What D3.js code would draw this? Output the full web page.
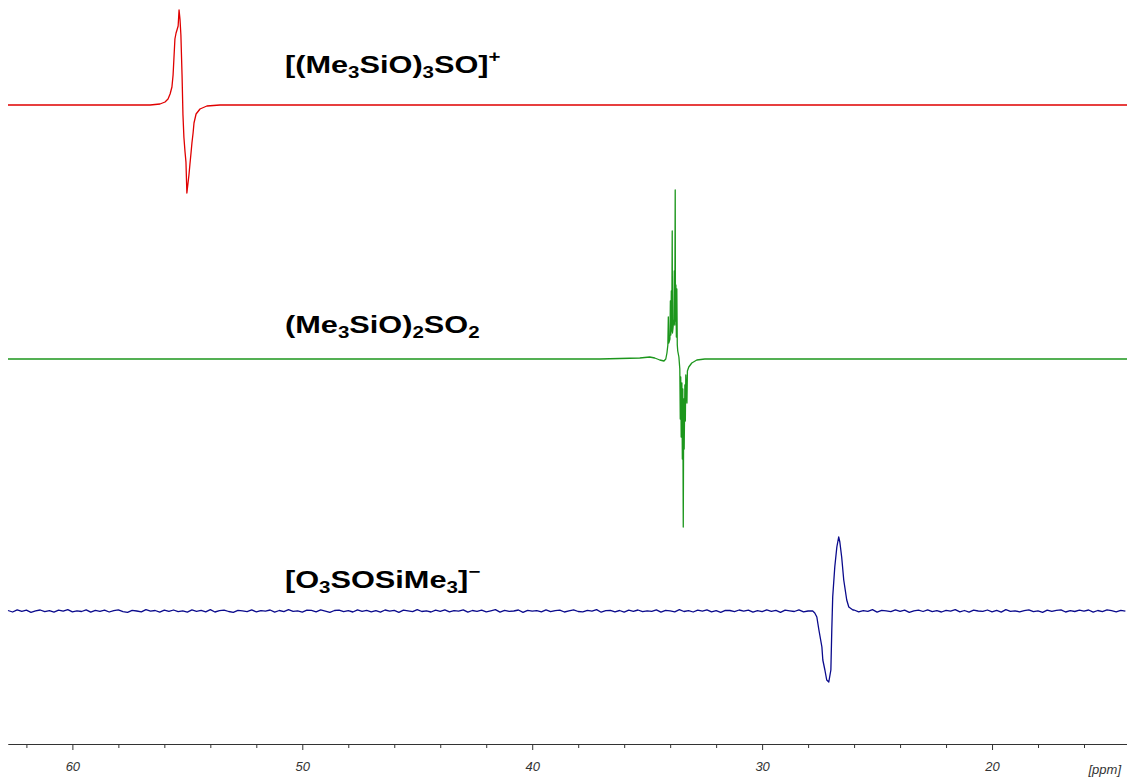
<!DOCTYPE html>
<html>
<head>
<meta charset="utf-8">
<script src="https://cdn.jsdelivr.net/npm/d3@7"></script>
<style>
  body { margin: 0; background: #fff; }
  svg { display: block; }
  .axis text { font-family: "Liberation Sans", Arial, sans-serif; font-style: italic; font-size: 13px; fill: #333; }
  .axis path, .axis line { stroke: #333; }
  .label { font-family: "Liberation Sans", Arial, sans-serif; font-weight: bold; font-size: 24px; fill: #000; }
</style>
</head>
<body>
<div id="chart"></div>
<script>
// ---- data (chemical shift in ppm, intensity in arbitrary units) ----
const redPpm = [62.8, 56.62, 56.19, 55.97, 55.84, 55.75, 55.67, 55.62, 55.58, 55.54, 55.49, 55.45, 55.40, 55.36, 55.32, 55.28,
  55.23, 55.19, 55.15, 55.10, 55.06, 55.02, 54.97, 54.93, 54.89, 54.84, 54.80, 54.75, 54.71, 54.62, 54.45, 54.15, 53.58, 14.13];
const redInt = [0, 0, 1, 3, 6, 11, 18, 30, 48, 66, 72, 75, 79, 95, 86, 70,
  30, -10, -32, -47, -57, -88, -78, -70, -60, -48, -38, -28, -18, -9, -4, -1, 0, 0];

const greenPpm = [62.8, 37.06, 35.32, 34.89, 34.67, 34.45, 34.27, 34.19, 34.14, 34.10, 34.08, 34.06, 34.01, 33.99, 33.97,
  33.95, 33.93, 33.91, 33.90, 33.88, 33.84, 33.82, 33.80, 33.78, 33.77, 33.75, 33.73, 33.71, 33.69, 33.67, 33.62,
  33.58, 33.56, 33.54, 33.52, 33.49, 33.47, 33.45, 33.43, 33.41, 33.39, 33.36, 33.34, 33.32, 33.27, 33.25, 33.19,
  33.06, 32.84, 32.49, 14.13];
const greenInt = [0, 0, 1, 2, 1, -1, -2, 0, 6, 14, 42, 16, 20, 58, 24,
  68, 28, 128, 26, 30, 40, 88, 34, 169, 38, 74, 22, 70, 14, 8, 2,
  -10, -60, -18, -78, -24, -100, -30, -168, -40, -90, -26, -62, -16, -44, -12, -8,
  -4, -1, 0, 0];

// blue baseline noise, sampled every 0.2 ppm starting at 62.8 ppm
const blueNoiseStart = 62.8;
const blueNoiseStep = 0.2;
const blueNoise = [
  0.5,-1.0,1.2,-0.4,0.8,-1.3,0.2,1.0,-0.7,0.3,-1.1,0.9,-0.2,1.4,-0.8,0.1,-0.5,1.1,-1.2,0.6,
  -0.3,0.9,-1.0,0.4,1.2,-0.6,-1.4,0.7,0.0,-0.9,1.3,-0.2,0.5,-1.1,0.8,-0.4,1.0,-0.7,0.2,-1.2,
  1.1,-0.3,0.6,-0.8,1.4,-1.0,0.3,0.9,-0.5,-1.3,0.7,0.1,-0.6,1.2,-0.9,0.4,-0.2,1.0,-1.1,0.5,
  -0.7,1.3,-0.4,0.2,-1.2,0.8,0.6,-0.9,1.1,-0.1,-1.4,0.5,0.9,-0.6,0.3,-1.0,1.2,-0.3,0.7,-0.8,
  0.4,-1.1,1.0,-0.2,0.6,-1.3,0.9,0.1,-0.7,1.4,-0.5,0.2,-1.0,0.8,-0.4,1.1,-0.9,0.3,-0.1,1.2,
  -1.2,0.5,-0.3,0.9,-0.8,0.2,1.3,-1.1,0.6,-0.4,0.0,1.0,-1.3,0.7,-0.2,0.4,-0.9,1.1,-0.6,0.3,
  0.8,-1.0,0.1,1.2,-0.5,-0.9,0.6,-0.2,1.4,-1.2,0.3,0.7,-0.8,0.5,-1.1,0.9,-0.3,1.0,-0.7,0.2,
  -0.4,1.1,-1.2,0.6,0.1,-0.8,1.3,-0.5,0.4,-1.0,0.8,-0.1,1.2,-0.9,0.3,-1.3,0.7,0.5,-0.6,1.0,
  -0.2,0.9,-1.1,0.4,-0.7,1.2,-0.3,0.6,-1.4,0.8,0.2,-0.5,1.1,-0.9,0.0,1.3,-0.6,0.3,-1.0,0.7,
  0.5,-1.2,0.9,-0.1,1.0,-0.8,0.4,-0.3,1.3,-1.1,0.6,0.2,-0.7,1.1,-0.4,0.8,-1.3,0.1,0.9,-0.5,
  1.2,-0.6,0.3,-1.0,0.7,-0.2,1.4,-0.9,0.5,-1.2,0.8,0.0,-0.4,1.0,-0.8,0.6,-1.1,1.3,-0.3,0.2,
  -0.9,0.4,1.1,-0.7,0.2,-1.3,0.9,-0.4,0.6,1.2,-1.0,0.3,-0.5,0.8,-0.2,1.0,-1.2,0.5,-0.6,1.1,
  0.3,-0.8,0.6,-0.2
];
const bluePeakPpm = [27.80, 27.71, 27.62, 27.53, 27.40, 27.36, 27.27, 27.19, 27.10, 27.01, 26.97, 26.93, 26.84, 26.75, 26.67,
  26.62, 26.54, 26.45, 26.32, 26.23, 26.05];
const bluePeakInt = [0, -2, -6, -19, -36, -49, -59, -69, -71, -59, -19, 14, 44, 64, 74,
  69, 54, 31, 11, 4, 1];

const majorTicks = [60, 50, 40, 30, 20];
const minorTicks = [62, 58, 56, 54, 52, 48, 46, 44, 42, 38, 36, 34, 32, 28, 26, 24, 22, 18, 16];
const unitLabel = "[ppm]";

const labels = [
  [["[(Me", ""], ["3", "sub"], ["SiO)", ""], ["3", "sub"], ["SO]", ""], ["+", "sup"]],
  [["(Me", ""], ["3", "sub"], ["SiO)", ""], ["2", "sub"], ["SO", ""], ["2", "sub"]],
  [["[O", ""], ["3", "sub"], ["SOSiMe", ""], ["3", "sub"], ["]", ""], ["\u2212", "sup"]]
];
const colors = ["#e00000", "#1c961c", "#0a0a8c"];

// ---- layout ----
const W = 1127, H = 778;
const baselines = [105, 359, 611];
const labelY = [73, 333, 588];
const labelX = 285;
const axisY = 744;

const svg = d3.select("#chart").append("svg").attr("width", W).attr("height", H);

const x = d3.scaleLinear().domain([62.8, 14.13]).range([8, 1127]);

// build series
const toPts = (p, v) => p.map((d, i) => ({ ppm: d, v: v[i] }));
const blueBase = blueNoise.map((v, i) => ({ ppm: blueNoiseStart - i * blueNoiseStep, v }))
  .filter(d => d.ppm > bluePeakPpm[0] || d.ppm < bluePeakPpm[bluePeakPpm.length - 1]);
const bluePts = blueBase.concat(toPts(bluePeakPpm, bluePeakInt)).sort((a, b) => b.ppm - a.ppm);

const series = [toPts(redPpm, redInt), toPts(greenPpm, greenInt), bluePts];

series.forEach((pts, i) => {
  const y = d3.scaleLinear().domain([-200, 200]).range([baselines[i] + 200, baselines[i] - 200]);
  const line = d3.line().x(d => x(d.ppm)).y(d => y(d.v));
  svg.append("path")
    .datum(pts)
    .attr("d", line)
    .attr("fill", "none")
    .attr("stroke", colors[i])
    .attr("stroke-width", 1.3)
    .attr("stroke-linejoin", "round");
});

// labels
labels.forEach((parts, i) => {
  const t = svg.append("text")
    .attr("class", "label")
    .attr("transform", `translate(${labelX},${labelY[i]}) scale(1.28,1)`);
  let shift = 0;
  parts.forEach(([s, kind]) => {
    const target = kind === "sub" ? 5 : kind === "sup" ? -11 : 0;
    t.append("tspan")
      .attr("dy", target - shift)
      .style("font-size", kind ? "16px" : "24px")
      .text(s);
    shift = target;
  });
});

// axis
const axisMajor = d3.axisBottom(x).tickValues(majorTicks).tickSize(6).tickSizeOuter(0).tickPadding(12);
const axisMinor = d3.axisBottom(x).tickValues(minorTicks).tickSize(4).tickSizeOuter(0).tickFormat("");

svg.append("g").attr("class", "axis").attr("transform", `translate(0,${axisY})`).call(axisMinor);
svg.append("g").attr("class", "axis").attr("transform", `translate(0,${axisY})`).call(axisMajor);

svg.append("text")
  .attr("x", 1121)
  .attr("y", axisY + 30)
  .attr("text-anchor", "end")
  .style("font-family", "Liberation Sans, Arial, sans-serif")
  .style("font-style", "italic")
  .style("font-size", "13px")
  .style("fill", "#333")
  .text(unitLabel);
</script>
</body>
</html>
